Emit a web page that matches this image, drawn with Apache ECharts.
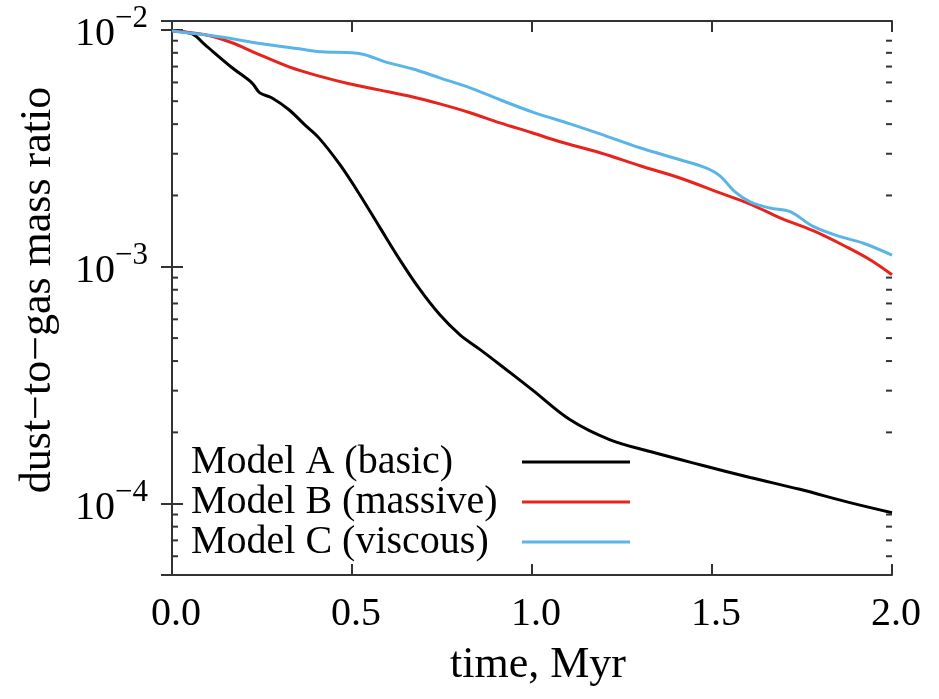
<!DOCTYPE html>
<html>
<head>
<meta charset="utf-8">
<script src="https://cdn.jsdelivr.net/npm/echarts@6/dist/echarts.min.js"></script>
<style>html,body{margin:0;padding:0;background:#fff}#c{width:939px;height:699px}</style>
</head>
<body>
<div id="c"></div>
<script>
// Model A (basic)
const timeA = [0, 0.056, 0.092, 0.167, 0.222, 0.244, 0.278, 0.325, 0.369, 0.408, 0.467, 0.522, 0.578, 0.633, 0.689, 0.744, 0.8, 0.856, 0.911, 1.0, 1.106, 1.217, 1.328, 1.467, 1.606, 1.744, 1.883, 2.0];
const ratioA = [0.00990, 0.00962, 0.00864, 0.00692, 0.00598, 0.00542, 0.00516, 0.00460, 0.00397, 0.00350, 0.00269, 0.00201, 0.00146, 0.00107, 0.000800, 0.000627, 0.000516, 0.000447, 0.000386, 0.000303, 0.000226, 0.000186, 0.000166, 0.000146, 0.000129, 0.000115, 0.000101, 0.0000916];
// Model B (massive)
const timeB = [0, 0.092, 0.167, 0.231, 0.325, 0.417, 0.492, 0.575, 0.667, 0.744, 0.828, 0.911, 1.0, 1.078, 1.189, 1.3, 1.411, 1.522, 1.606, 1.689, 1.781, 1.875, 1.939, 2.0];
const ratioB = [0.00990, 0.00953, 0.00882, 0.00800, 0.00698, 0.00633, 0.00592, 0.00558, 0.00522, 0.00487, 0.00447, 0.00405, 0.00368, 0.00337, 0.00303, 0.00267, 0.00237, 0.00205, 0.00184, 0.00161, 0.00142, 0.00121, 0.00107, 0.000925];
// Model C (viscous)
const timeC = [0, 0.092, 0.186, 0.25, 0.353, 0.417, 0.5, 0.536, 0.592, 0.667, 0.744, 0.828, 0.911, 1.0, 1.106, 1.189, 1.3, 1.411, 1.481, 1.522, 1.564, 1.606, 1.661, 1.717, 1.781, 1.856, 1.919, 2.0];
const ratioC = [0.00990, 0.00953, 0.00907, 0.00873, 0.00832, 0.00808, 0.00800, 0.00785, 0.00733, 0.00685, 0.00627, 0.00569, 0.00507, 0.00451, 0.00401, 0.00364, 0.00318, 0.00283, 0.00262, 0.00242, 0.00207, 0.00188, 0.00177, 0.00171, 0.00148, 0.00134, 0.00126, 0.00112];

const seriesNames = ['Model A (basic)', 'Model B (massive)', 'Model C (viscous)'];
const seriesColors = ['#000000', '#e8231c', '#5ab4e8'];
const yMinorTicks = [6e-5, 7e-5, 8e-5, 9e-5, 2e-4, 3e-4, 4e-4, 5e-4, 6e-4, 7e-4, 8e-4, 9e-4, 2e-3, 3e-3, 4e-3, 5e-3, 6e-3, 7e-3, 8e-3, 9e-3];
const xLabel = 'time, Myr';
const yLabel = 'dust\u2212to\u2212gas mass ratio';

const X_MIN = 0, X_MAX = 2, Y_MIN = 5e-5, Y_MAX = 0.0109;
const FONT = 'Liberation Serif';
const frame = { show: true, lineStyle: { color: '#333', width: 2 } };

function zip(t, v) { return t.map((x, i) => [x, v[i]]); }
const dataSets = [zip(timeA, ratioA), zip(timeB, ratioB), zip(timeC, ratioC)];

const chart = echarts.init(document.getElementById('c'));
chart.setOption({
  animation: false,
  backgroundColor: '#fff',
  grid: { left: 172, right: 47, top: 21, bottom: 124, containLabel: false },
  legend: {
    orient: 'vertical', left: 186, top: 437, align: 'right',
    itemWidth: 108, itemHeight: 3, itemGap: 0, icon: 'rect',
    data: seriesNames,
    formatter: n => '{a|' + n + '}',
    textStyle: {
      fontFamily: FONT, fontSize: 40, color: '#000',
      rich: { a: { width: 326, align: 'left', fontFamily: FONT, fontSize: 40, lineHeight: 40, color: '#000' } }
    }
  },
  xAxis: [{
    type: 'value', min: X_MIN, max: X_MAX, interval: 0.5,
    name: xLabel, nameLocation: 'middle', nameGap: 68,
    nameTextStyle: { fontFamily: FONT, fontSize: 44, color: '#000', padding: [0, 0, 0, 12] },
    axisLine: frame,
    axisTick: { show: true, inside: true, length: 11, lineStyle: { color: '#333', width: 2 } },
    axisLabel: { margin: 19, fontFamily: FONT, fontSize: 40, color: '#000', padding: [0, 0, 0, 8], formatter: v => v.toFixed(1) },
    splitLine: { show: false }
  }, {
    type: 'value', min: X_MIN, max: X_MAX, interval: 0.5, position: 'top',
    axisLine: frame,
    axisTick: { show: true, inside: true, length: 11, lineStyle: { color: '#333', width: 2 } },
    axisLabel: { show: false }, splitLine: { show: false }
  }],
  yAxis: [{
    type: 'log', logBase: 10, min: Y_MIN, max: Y_MAX, splitNumber: 3,
    name: yLabel, nameLocation: 'middle', nameGap: 112,
    nameTextStyle: { fontFamily: FONT, fontSize: 44, color: '#000', padding: [0, 0, 0, 16] },
    axisLine: frame,
    axisTick: { show: true, inside: true, length: 11, lineStyle: { color: '#333', width: 2 } },
    axisLabel: {
      margin: 24, showMinLabel: false, showMaxLabel: false,
      formatter: v => {
        const e = Math.log10(v);
        if (Math.abs(e - Math.round(e)) > 1e-6) return '';
        return '{b|10}{s|\u2212' + Math.abs(Math.round(e)) + '}';
      },
      rich: {
        b: { fontFamily: FONT, fontSize: 40, lineHeight: 40, color: '#000', verticalAlign: 'middle', padding: [9, 0, 0, 0] },
        s: { fontFamily: FONT, fontSize: 31, lineHeight: 31, color: '#000', verticalAlign: 'middle', padding: [0, 0, 22, 0] }
      }
    },
    splitLine: { show: false }
  }, {
    type: 'log', logBase: 10, min: Y_MIN, max: Y_MAX, splitNumber: 3, position: 'right',
    axisLine: frame,
    axisTick: { show: true, inside: true, length: 11, lineStyle: { color: '#333', width: 2 } },
    axisLabel: { show: false }, splitLine: { show: false }
  }],
  series: seriesNames.map((n, i) => ({
    name: n, type: 'line', data: dataSets[i], smooth: 0.35,
    showSymbol: false, symbol: 'none', color: seriesColors[i],
    lineStyle: { color: seriesColors[i], width: 3 }, z: 3 + i
  })).concat([{
    type: 'custom', name: 'minorTicks', silent: true, z: 10,
    data: yMinorTicks.map(v => [X_MIN, v]),
    renderItem: (params, api) => {
      const v = api.value(1);
      const l = api.coord([X_MIN, v]);
      const r = api.coord([X_MAX, v]);
      const st = { stroke: '#333', lineWidth: 2 };
      return { type: 'group', children: [
        { type: 'line', shape: { x1: l[0], y1: l[1], x2: l[0] + 6, y2: l[1] }, style: st },
        { type: 'line', shape: { x1: r[0], y1: r[1], x2: r[0] - 6, y2: r[1] }, style: st }
      ] };
    }
  }])
});
</script>
</body>
</html>
